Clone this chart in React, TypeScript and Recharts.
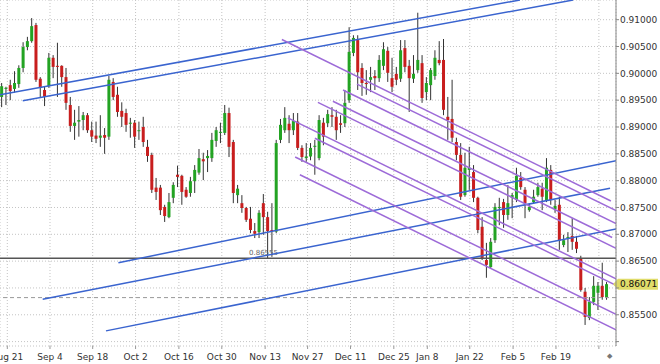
import React from "react";
import { Bar, CartesianGrid, ComposedChart, ReferenceLine, XAxis, YAxis } from "recharts";

// daily bars, oldest first
const opens = [
  0.8956, 0.8971, 0.8978, 0.8971, 0.898, 0.901, 0.9049, 0.906, 0.909, 0.899,
  0.8969, 0.8976, 0.9029, 0.9014, 0.9014, 0.8993, 0.8941, 0.8902, 0.891, 0.8913,
  0.8922, 0.8894, 0.8884, 0.888, 0.8885, 0.8882, 0.8984, 0.896, 0.893, 0.8926,
  0.8906, 0.8908, 0.8893, 0.89, 0.8863, 0.8848, 0.8787, 0.8787, 0.8751, 0.8732,
  0.8768, 0.8811, 0.8809, 0.8783, 0.8777, 0.8799, 0.8815, 0.884, 0.8842, 0.8842,
  0.8874, 0.8889, 0.8889, 0.8926, 0.8872, 0.8773, 0.8758, 0.8749, 0.8729, 0.8706,
  0.8704, 0.8758, 0.8732, 0.8708, 0.8705, 0.8876, 0.8894, 0.8906, 0.8894, 0.891,
  0.8861, 0.8842, 0.8845, 0.8863, 0.8842, 0.8908, 0.8907, 0.8922, 0.8919, 0.8907,
  0.8907, 0.895, 0.9038, 0.9062, 0.901, 0.8982, 0.8988, 0.8995, 0.8991, 0.9014,
  0.9042, 0.8991, 0.8999, 0.899, 0.9047, 0.9014, 0.899, 0.9006, 0.9019, 0.8965,
  0.8978, 0.8995, 0.9025, 0.9025, 0.8919, 0.8915, 0.8872, 0.8848, 0.8773, 0.882,
  0.8816, 0.8768, 0.8714, 0.8652, 0.8639, 0.8689, 0.8749, 0.876, 0.8736, 0.8768,
  0.8764, 0.8805, 0.8783, 0.8745, 0.876, 0.8773, 0.8785, 0.8764, 0.882, 0.8747,
  0.8755, 0.868, 0.8693, 0.8697, 0.8686, 0.8654, 0.8593, 0.8544, 0.8574, 0.8591,
  0.8604, 0.8583,
];
const highs = [
  0.8982, 0.8975, 0.8988, 0.9004, 0.9015, 0.9058, 0.9068, 0.9103, 0.9094, 0.8993,
  0.8975, 0.9038, 0.9034, 0.9057, 0.9015, 0.901, 0.8956, 0.8932, 0.8939, 0.8928,
  0.8926, 0.891, 0.891, 0.8922, 0.8898, 0.8995, 0.8991, 0.8975, 0.8946, 0.8934,
  0.8917, 0.8913, 0.891, 0.8919, 0.8876, 0.8852, 0.8805, 0.8792, 0.8755, 0.8777,
  0.8797, 0.8828, 0.8811, 0.8788, 0.8807, 0.8829, 0.8859, 0.8852, 0.8857, 0.8889,
  0.89, 0.8908, 0.8941, 0.8936, 0.8876, 0.8792, 0.8773, 0.8751, 0.8751, 0.8721,
  0.8745, 0.8775, 0.8742, 0.8758, 0.8876, 0.8915, 0.8937, 0.8922, 0.8926, 0.8926,
  0.8866, 0.887, 0.887, 0.8876, 0.8922, 0.8917, 0.8932, 0.8937, 0.8932, 0.8922,
  0.8969, 0.9086, 0.9071, 0.9071, 0.9019, 0.9006, 0.9012, 0.9006, 0.9034, 0.9058,
  0.9049, 0.9029, 0.9012, 0.9062, 0.9062, 0.9025, 0.9034, 0.9113, 0.9034, 0.8993,
  0.901, 0.9043, 0.906, 0.9064, 0.8956, 0.8988, 0.888, 0.887, 0.8852, 0.8863,
  0.8829, 0.877, 0.8732, 0.8684, 0.8693, 0.8758, 0.8768, 0.8766, 0.8792, 0.8777,
  0.8824, 0.8816, 0.8788, 0.8758, 0.8783, 0.8796, 0.8796, 0.8842, 0.8829, 0.8764,
  0.877, 0.8699, 0.8704, 0.873, 0.8697, 0.866, 0.86, 0.8583, 0.8622, 0.8611,
  0.8647, 0.8611,
];
const lows = [
  0.8937, 0.8941, 0.895, 0.8964, 0.8973, 0.9002, 0.9043, 0.9057, 0.8984, 0.8956,
  0.8939, 0.8973, 0.8991, 0.8956, 0.8975, 0.8932, 0.8891, 0.8876, 0.8882, 0.8894,
  0.8889, 0.8872, 0.887, 0.8863, 0.885, 0.8876, 0.895, 0.8919, 0.89, 0.8891,
  0.888, 0.8861, 0.8876, 0.8863, 0.8835, 0.8777, 0.8764, 0.8736, 0.8723, 0.873,
  0.8758, 0.8788, 0.8755, 0.8768, 0.877, 0.8777, 0.8811, 0.8801, 0.8816, 0.8835,
  0.8863, 0.887, 0.8885, 0.8844, 0.8758, 0.8758, 0.874, 0.8723, 0.8702, 0.8693,
  0.8693, 0.8699, 0.86555, 0.8658, 0.8702, 0.887, 0.8889, 0.887, 0.8885, 0.8857,
  0.8835, 0.8835, 0.8838, 0.8811, 0.8838, 0.8866, 0.89, 0.89, 0.8876, 0.8889,
  0.89, 0.8945, 0.9032, 0.8969, 0.8958, 0.896, 0.8965, 0.8969, 0.8984, 0.9006,
  0.8984, 0.8965, 0.8978, 0.8984, 0.9002, 0.8928, 0.8982, 0.9001, 0.8945, 0.895,
  0.895, 0.8988, 0.9015, 0.8922, 0.8876, 0.8872, 0.8838, 0.8764, 0.877, 0.8783,
  0.876, 0.8702, 0.8652, 0.8619, 0.8637, 0.8684, 0.8717, 0.8712, 0.8727, 0.873,
  0.876, 0.8783, 0.873, 0.8742, 0.8757, 0.877, 0.8745, 0.876, 0.8755, 0.874,
  0.8671, 0.8676, 0.8667, 0.8671, 0.8665, 0.8593, 0.8531, 0.854, 0.8568, 0.8559,
  0.8578, 0.8578,
];
const closes = [
  0.8976, 0.8973, 0.8967, 0.8982, 0.901, 0.9049, 0.906, 0.9088, 0.8988, 0.8973,
  0.8956, 0.9029, 0.9012, 0.9012, 0.8993, 0.8945, 0.8902, 0.8908, 0.8913, 0.8922,
  0.8894, 0.8882, 0.8878, 0.8884, 0.888, 0.8988, 0.8956, 0.8928, 0.8919, 0.8904,
  0.8908, 0.8882, 0.8894, 0.8872, 0.8846, 0.8783, 0.8779, 0.8745, 0.8734, 0.876,
  0.8792, 0.8807, 0.8779, 0.877, 0.8799, 0.882, 0.8842, 0.8836, 0.8846, 0.8876,
  0.8894, 0.8891, 0.8926, 0.8863, 0.8777, 0.8785, 0.8749, 0.8727, 0.8708, 0.8701,
  0.874, 0.8732, 0.8706, 0.8706, 0.887, 0.8904, 0.8917, 0.8894, 0.8911, 0.8861,
  0.8844, 0.8845, 0.8861, 0.8865, 0.8913, 0.8882, 0.8924, 0.8919, 0.8894, 0.8904,
  0.8945, 0.904, 0.9066, 0.9002, 0.8982, 0.898, 0.8993, 0.8991, 0.9025, 0.9045,
  0.9001, 0.8975, 0.8988, 0.9043, 0.9012, 0.8991, 0.8999, 0.9025, 0.8954, 0.8982,
  0.9006, 0.9029, 0.9019, 0.8932, 0.8913, 0.888, 0.8848, 0.877, 0.8824, 0.8824,
  0.8768, 0.8708, 0.8656, 0.8643, 0.8686, 0.8751, 0.8751, 0.8736, 0.8758, 0.8773,
  0.8809, 0.8788, 0.8758, 0.8751, 0.877, 0.8788, 0.877, 0.8824, 0.8764, 0.8753,
  0.8688, 0.8689, 0.8695, 0.8686, 0.8673, 0.8596, 0.8546, 0.8574, 0.8604, 0.8604,
  0.8583, 0.86071,
];

// bar position of each date label
const dateTicks = [1.4, 11.35, 21.3, 31.3, 41.4, 51.4, 61.5, 71.4, 81.4, 91.5, 99.3, 109.2, 119.3, 129.3, 139.3];
const dateLabels = ["Aug 21", "Sep 4", "Sep 18", "Oct 2", "Oct 16", "Oct 30", "Nov 13", "Nov 27", "Dec 11", "Dec 25", "Jan 8", "Jan 22", "Feb 5", "Feb 19", ""];
const priceTicks = [0.85, 0.855, 0.86, 0.865, 0.87, 0.875, 0.88, 0.885, 0.89, 0.895, 0.9, 0.905, 0.91];

const lastPrice = 0.86071;
const lowLevel = 0.86555;
const dashedLevel = 0.8582;

// trend lines: [bar1, price1, bar2, price2]
const blueLines = [
  [-0.3, 0.896, 120.9, 0.91367],
  [5.0, 0.8949, 133.3, 0.91367],
  [27.3, 0.8647, 143.3, 0.8837],
  [9.65, 0.8579, 141.9, 0.8786],
  [24.4, 0.852, 143.3, 0.871],
];
const purpleLines = [
  [65.4, 0.9063, 142.1, 0.8762],
  [82.9, 0.898, 143.3, 0.8744],
  [79.65, 0.8969, 143.3, 0.872],
  [77.3, 0.8948, 142.4, 0.8694],
  [73.8, 0.8946, 143.3, 0.8674],
  [66.8, 0.8917, 143.3, 0.8617],
  [73.1, 0.8879, 143.3, 0.8605],
  [68.5, 0.8844, 143.3, 0.8551],
  [69.6, 0.8811, 143.3, 0.8522],
];

const candles = opens.map((o, i) => ({
  i,
  o,
  h: highs[i],
  l: lows[i],
  c: closes[i],
  range: [lows[i], highs[i]],
}));

const GREEN = "#23a323";
const RED = "#c81e1e";
const FONT = "DejaVu Sans";

function Candle(props: any) {
  const { x, y, width, height, index } = props;
  const d = props.payload && props.payload.o !== undefined ? props.payload : candles[index];
  if (!d) return null;
  const cx = x + width / 2;
  const toY = (v: number) => (d.h === d.l ? y : y + ((d.h - v) / (d.h - d.l)) * height);
  const top = toY(Math.max(d.o, d.c));
  const bot = toY(Math.min(d.o, d.c));
  return (
    <g>
      <line x1={cx} x2={cx} y1={y} y2={y + height} stroke="#333" strokeWidth={1} />
      <rect x={cx - 1.5} y={top} width={3} height={Math.max(1, bot - top)} fill={d.c >= d.o ? GREEN : RED} />
    </g>
  );
}

function LowLabel(props: any) {
  const vb = props.viewBox || {};
  return (
    <text x={vb.x + 249} y={vb.y - 3} fontSize={7} fill="#666" fontFamily={FONT}>
      {lowLevel.toFixed(5)}
    </text>
  );
}

function PriceTag(props: any) {
  const vb = props.viewBox || {};
  const right = vb.x + vb.width;
  const yy = vb.y;
  return (
    <g>
      <polygon
        points={`${right - 3},${yy} ${right + 2},${yy - 5.5} ${right + 42},${yy - 5.5} ${right + 42},${yy + 5.5} ${right + 2},${yy + 5.5}`}
        fill="#e0dc6a"
      />
      <text x={right + 4} y={yy + 3.3} fontSize={9} fill="#111" fontFamily={FONT}>
        {lastPrice.toFixed(5)}
      </text>
    </g>
  );
}

export default function App() {
  return (
    <div style={{ position: "absolute", left: 0, top: 0, width: 660, height: 364, background: "#fff" }}>
      <ComposedChart
        width={660}
        height={364}
        data={candles}
        margin={{ top: 0, right: 0, bottom: 0, left: 0 }}
        style={{ fontFamily: FONT }}
      >
        <CartesianGrid stroke="#c4c4c4" strokeDasharray="1 2" />
        <XAxis
          dataKey="i"
          type="number"
          domain={[-0.303, 143.29]}
          allowDataOverflow
          ticks={dateTicks}
          interval={0}
          tickFormatter={(v) => dateLabels[dateTicks.indexOf(v)] ?? ""}
          height={18}
          axisLine={false}
          tickLine={{ stroke: "#999" }}
          tickSize={3}
          tickMargin={5}
          tick={{ fontSize: 9, fill: "#333", fontFamily: FONT }}
        />
        <YAxis
          orientation="right"
          width={44}
          domain={[0.84918, 0.91367]}
          allowDataOverflow
          ticks={priceTicks}
          interval={0}
          tickFormatter={(v: number) => (Math.abs(v - 0.85) < 1e-6 || Math.abs(v - 0.86) < 1e-6 ? "" : v.toFixed(5))}
          axisLine={{ stroke: "#888" }}
          tickLine={{ stroke: "#888" }}
          tickSize={3}
          tickMargin={1}
          tick={{ fontSize: 9, fill: "#333", fontFamily: FONT, textAnchor: "start" }}
        />
        <Bar dataKey="range" barSize={3} shape={<Candle />} isAnimationActive={false} />
        <ReferenceLine y={dashedLevel} stroke="#999" strokeDasharray="4 3" />
        <ReferenceLine y={lowLevel} stroke="#555" strokeWidth={1.5} label={<LowLabel />} />
        {blueLines.map((s, k) => (
          <ReferenceLine
            key={`b${k}`}
            segment={[{ x: s[0], y: s[1] }, { x: s[2], y: s[3] }]}
            stroke="#3a64cf"
            strokeWidth={1.5}
            ifOverflow="hidden"
          />
        ))}
        {purpleLines.map((s, k) => (
          <ReferenceLine
            key={`p${k}`}
            segment={[{ x: s[0], y: s[1] }, { x: s[2], y: s[3] }]}
            stroke="#9d6bd8"
            strokeWidth={1.5}
            ifOverflow="hidden"
          />
        ))}
        <ReferenceLine y={lastPrice} stroke="none" label={<PriceTag />} />
      </ComposedChart>
      <span style={{ position: "absolute", left: 607, top: 352, fontSize: 7, color: "#777", fontFamily: FONT }}>◆</span>
    </div>
  );
}
